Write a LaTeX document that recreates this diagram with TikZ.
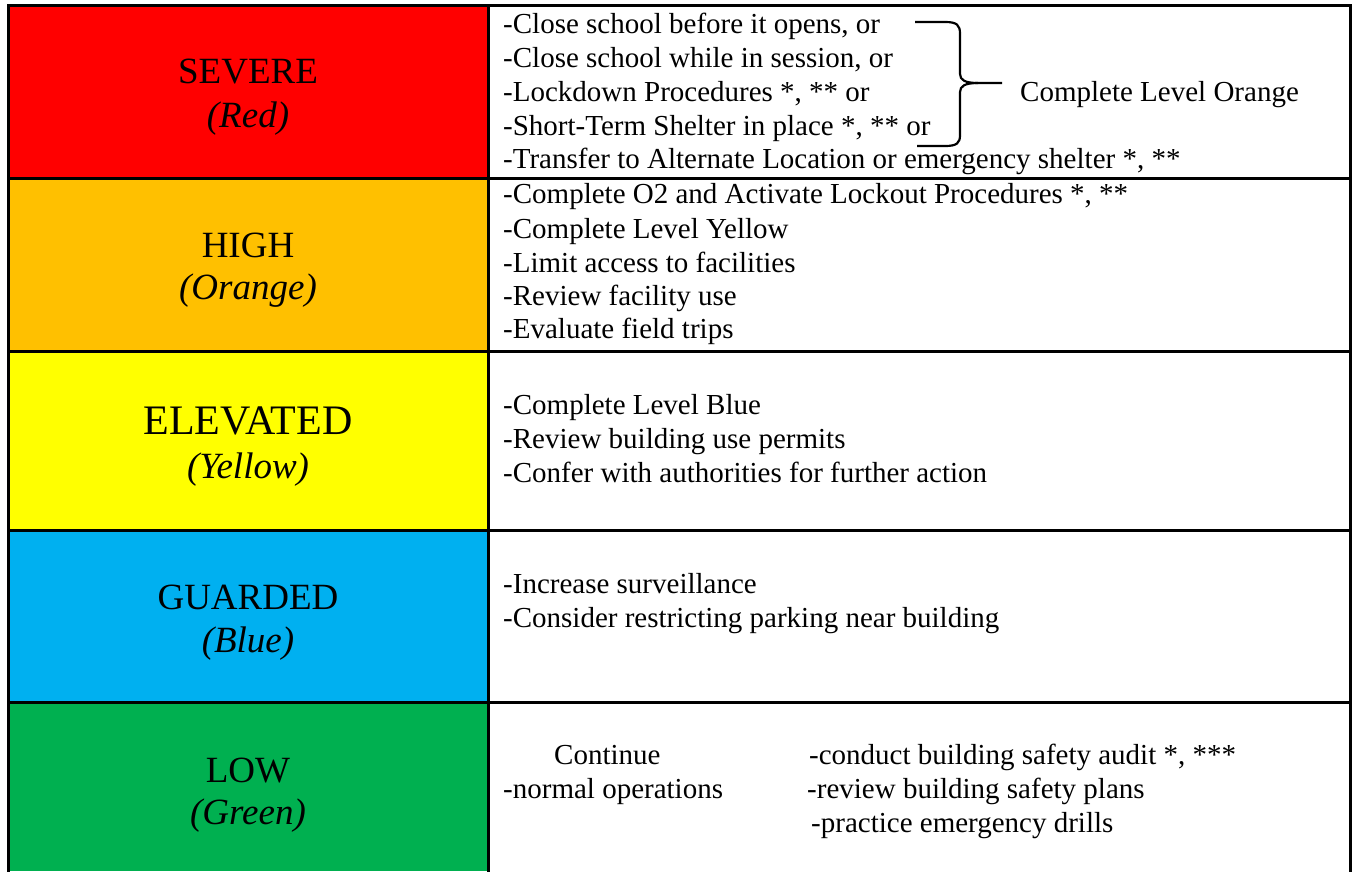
\documentclass[tikz,border=0pt]{standalone}
\usepackage{fontspec}
\setmainfont{Liberation Serif}
\definecolor{lvred}{HTML}{FF0000}
\definecolor{lvorange}{HTML}{FFC000}
\definecolor{lvyellow}{HTML}{FFFF00}
\definecolor{lvblue}{HTML}{00B0F0}
\definecolor{lvgreen}{HTML}{00B050}
\begin{document}
\begin{tikzpicture}[x=1pt,y=-1pt,
  body/.style={anchor=base west, inner sep=0pt, font=\fontsize{29}{34}\selectfont},
  head/.style={anchor=base, inner sep=0pt, font=\fontsize{37}{44}\selectfont},
  bighead/.style={anchor=base, inner sep=0pt, font=\fontsize{42}{48}\selectfont},
  sub/.style={anchor=base, inner sep=0pt, font=\fontsize{37}{44}\selectfont\itshape},
  gridline/.style={line width=3pt, line cap=rect},
  bracepath/.style={line width=2.2pt}]
\useasboundingbox (0,0) rectangle (1354,871);
\fill[white] (0,0) rectangle (1354,871);
% colour cells
\fill[lvred]    (8,5)   rectangle (488,178);
\fill[lvorange] (8,178) rectangle (488,351);
\fill[lvyellow] (8,351) rectangle (488,530);
\fill[lvblue]   (8,530) rectangle (488,702);
\fill[lvgreen]  (8,702) rectangle (488,871);
% grid
\foreach \yy in {5,178,351,530,702} {\draw[gridline] (8,\yy) -- (1350,\yy);}
\draw[gridline] (8,5) -- (8,873);
\draw[gridline] (488,5) -- (488,873);
\draw[gridline] (1350,5) -- (1350,873);
% headings
\node[head] (h1) at (248,83) {SEVERE};
\node[sub]  (s1) at (248,127) {(Red)};
\node[head] (h2) at (248,257) {HIGH};
\node[sub]  (s2) at (248,299) {(Orange)};
\node[bighead] (h3) at (248,434) {ELEVATED};
\node[sub]  (s3) at (248,478) {(Yellow)};
\node[head] (h4) at (248,609) {GUARDED};
\node[sub]  (s4) at (248,652) {(Blue)};
\node[head] (h5) at (248,782) {LOW};
\node[sub]  (s5) at (248,824) {(Green)};
% row 1
\node[body] (r1a) at (503,33)  {-Close school before it opens, or};
\node[body] (r1b) at (503,67)  {-Close school while in session, or};
\node[body] (r1c) at (503,101) {-Lockdown Procedures *, ** or};
\node[body] (r1d) at (503,135) {-Short-Term Shelter in place *, ** or};
\node[body] (r1e) at (503,168) {-Transfer to Alternate Location or emergency shelter *, **};
\node[body] (r1o) at (1020,101) {Complete Level Orange};
\draw[bracepath] (915,22) -- (945,22) .. controls (957,22) and (960,25) .. (960,34) -- (960,74)
   .. controls (960,80) and (965,83) .. (978,83) -- (1002,83);
\draw[bracepath] (978,83) .. controls (965,83) and (960,86) .. (960,92) -- (960,135)
   .. controls (960,143) and (957,146) .. (945,146) -- (917,146);
% row 2
\node[body] (r2a) at (503,203) {-Complete O2 and Activate Lockout Procedures *, **};
\node[body] (r2b) at (503,238) {-Complete Level Yellow};
\node[body] (r2c) at (503,272) {-Limit access to facilities};
\node[body] (r2d) at (503,305) {-Review facility use};
\node[body] (r2e) at (503,338) {-Evaluate field trips};
% row 3
\node[body] (r3a) at (503,414) {-Complete Level Blue};
\node[body] (r3b) at (503,448) {-Review building use permits};
\node[body] (r3c) at (503,482) {-Confer with authorities for further action};
% row 4
\node[body] (r4a) at (503,593) {-Increase surveillance};
\node[body] (r4b) at (503,627) {-Consider restricting parking near building};
% row 5
\node[body] (r5a) at (554,764) {Continue};
\node[body] (r5b) at (503,798) {-normal operations};
\node[body] (r5c) at (809,764) {-conduct building safety audit *, ***};
\node[body] (r5d) at (807,798) {-review building safety plans};
\node[body] (r5e) at (811,832) {-practice emergency drills};
\end{tikzpicture}
\end{document}
